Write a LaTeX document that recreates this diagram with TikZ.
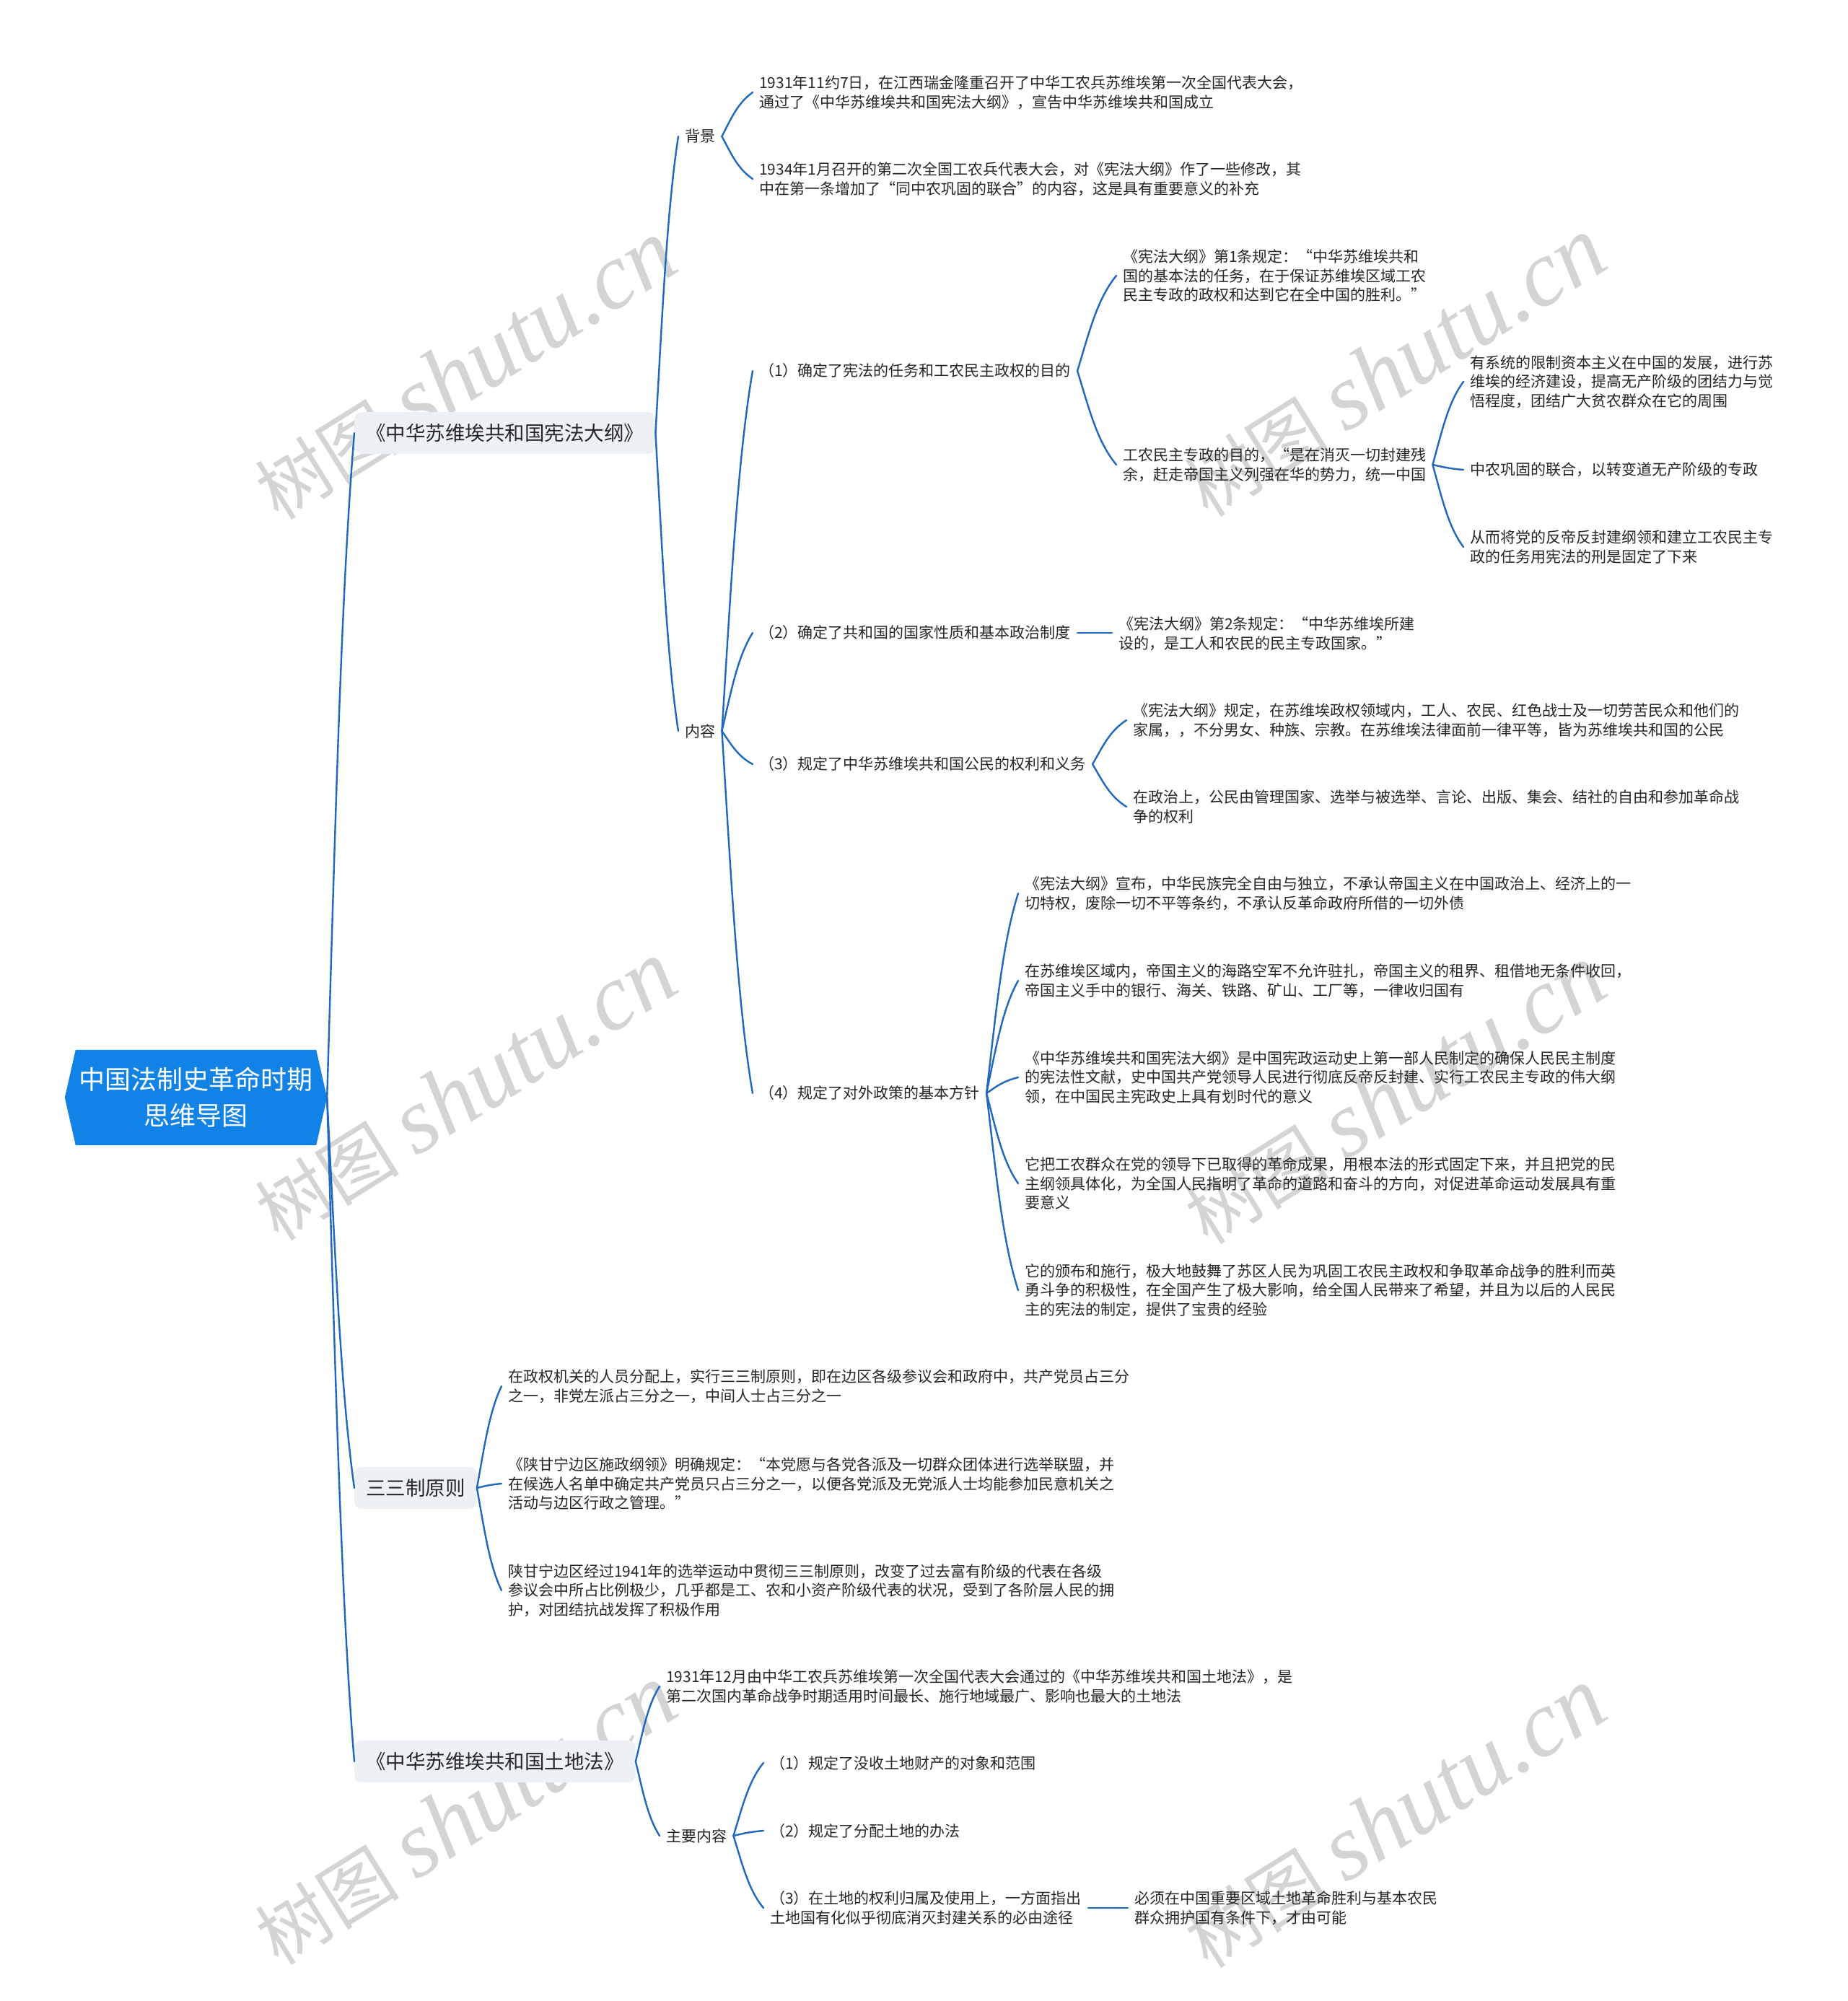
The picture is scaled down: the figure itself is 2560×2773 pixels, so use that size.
\documentclass[tikz,border=0pt]{standalone}
\usepackage{fontspec}
\setmainfont{Noto Sans CJK SC}
\newfontfamily\wmlatin{Liberation Serif}
\usetikzlibrary{calc,backgrounds}

\definecolor{linkblue}{HTML}{2068BE}
\definecolor{rootblue}{HTML}{1283E6}
\definecolor{boxgray}{HTML}{EDF0F4}
\definecolor{txt}{HTML}{262626}
\definecolor{wm}{HTML}{D4D4D4}

\tikzset{
  link/.style={draw=linkblue, line width=2.4pt, line cap=round},
  leaf/.style={anchor=west, align=left, inner xsep=9pt, inner ysep=3pt,
    font=\fontsize{21}{26.5}\selectfont, text=txt},
  mainbox/.style={anchor=west, fill=boxgray, rounded corners=10pt, inner xsep=16pt,
    minimum height=58pt, font=\fontsize{27.5}{32}\selectfont, text=txt},
  rootnode/.style={inner sep=0pt, minimum width=363pt, minimum height=132pt,
    align=center, text=white, font=\fontsize{36}{50}\selectfont},
  wmark/.style={rotate=32, text=wm, inner sep=0pt}
}

\newcommand{\mmlink}[2]{%
  \draw[link] let \p1=(#1.east), \p2=(#2.west), \n1={\x2-\x1}, \n2={\y2-\y1} in
    (\p1) .. controls ({\x1+0.3*\n1},{\y1+0.4*\n2}) and ({\x2-0.5*\n1},{\y2-0.25*\n2}) .. (\p2);}
\newcommand{\wmtext}{{\fontsize{100}{100}\selectfont 树图}\hspace{24pt}{\wmlatin\itshape\fontsize{130}{130}\selectfont shutu.cn}}

\begin{document}
\begin{tikzpicture}[x=1pt,y=-1pt]
\useasboundingbox (0,0) rectangle (2560,2773);

% root
\node[rootnode] (root) at (271.5,1521) {中国法制史革命时期\\思维导图};

% level 1
\node[mainbox] (A) at (491,600) {《中华苏维埃共和国宪法大纲》};
\node[mainbox] (B) at (491,2062) {三三制原则};
\node[mainbox] (C) at (491,2441) {《中华苏维埃共和国土地法》};

% A subtree
\node[leaf] (A1) at (940,189) {背景};
\node[leaf] (A2) at (940,1013) {内容};
\node[leaf] (A1a) at (1043,128) {1931年11约7日，在江西瑞金隆重召开了中华工农兵苏维埃第一次全国代表大会，\\通过了《中华苏维埃共和国宪法大纲》，宣告中华苏维埃共和国成立};
\node[leaf] (A1b) at (1043,248) {1934年1月召开的第二次全国工农兵代表大会，对《宪法大纲》作了一些修改，其\\中在第一条增加了“同中农巩固的联合”的内容，这是具有重要意义的补充};

\node[leaf] (A21) at (1043,514) {（1）确定了宪法的任务和工农民主政权的目的};
\node[leaf] (A21a) at (1547,382) {《宪法大纲》第1条规定：“中华苏维埃共和\\国的基本法的任务，在于保证苏维埃区域工农\\民主专政的政权和达到它在全中国的胜利。”};
\node[leaf] (A21b) at (1547,644) {工农民主专政的目的，“是在消灭一切封建残\\余，赶走帝国主义列强在华的势力，统一中国};
\node[leaf] (A21b1) at (2028,529) {有系统的限制资本主义在中国的发展，进行苏\\维埃的经济建设，提高无产阶级的团结力与觉\\悟程度，团结广大贫农群众在它的周围};
\node[leaf] (A21b2) at (2028,651) {中农巩固的联合，以转变道无产阶级的专政};
\node[leaf] (A21b3) at (2028,758) {从而将党的反帝反封建纲领和建立工农民主专\\政的任务用宪法的刑是固定了下来};

\node[leaf] (A22) at (1043,877) {（2）确定了共和国的国家性质和基本政治制度};
\node[leaf] (A22a) at (1541,878) {《宪法大纲》第2条规定：“中华苏维埃所建\\设的，是工人和农民的民主专政国家。”};

\node[leaf] (A23) at (1043,1059) {（3）规定了中华苏维埃共和国公民的权利和义务};
\node[leaf] (A23a) at (1561,998) {《宪法大纲》规定，在苏维埃政权领域内，工人、农民、红色战士及一切劳苦民众和他们的\\家属，，不分男女、种族、宗教。在苏维埃法律面前一律平等，皆为苏维埃共和国的公民};
\node[leaf] (A23b) at (1561,1118) {在政治上，公民由管理国家、选举与被选举、言论、出版、集会、结社的自由和参加革命战\\争的权利};

\node[leaf] (A24) at (1043,1515) {（4）规定了对外政策的基本方针};
\node[leaf] (A24a) at (1411,1238) {《宪法大纲》宣布，中华民族完全自由与独立，不承认帝国主义在中国政治上、经济上的一\\切特权，废除一切不平等条约，不承认反革命政府所借的一切外债};
\node[leaf] (A24b) at (1411,1359) {在苏维埃区域内，帝国主义的海路空军不允许驻扎，帝国主义的租界、租借地无条件收回，\\帝国主义手中的银行、海关、铁路、矿山、工厂等，一律收归国有};
\node[leaf] (A24c) at (1411,1493) {《中华苏维埃共和国宪法大纲》是中国宪政运动史上第一部人民制定的确保人民民主制度\\的宪法性文献，史中国共产党领导人民进行彻底反帝反封建、实行工农民主专政的伟大纲\\领，在中国民主宪政史上具有划时代的意义};
\node[leaf] (A24d) at (1411,1640) {它把工农群众在党的领导下已取得的革命成果，用根本法的形式固定下来，并且把党的民\\主纲领具体化，为全国人民指明了革命的道路和奋斗的方向，对促进革命运动发展具有重\\要意义};
\node[leaf] (A24e) at (1411,1788) {它的颁布和施行，极大地鼓舞了苏区人民为巩固工农民主政权和争取革命战争的胜利而英\\勇斗争的积极性，在全国产生了极大影响，给全国人民带来了希望，并且为以后的人民民\\主的宪法的制定，提供了宝贵的经验};

% B subtree
\node[leaf] (B1) at (695,1921) {在政权机关的人员分配上，实行三三制原则，即在边区各级参议会和政府中，共产党员占三分\\之一，非党左派占三分之一，中间人士占三分之一};
\node[leaf] (B2) at (695,2056) {《陕甘宁边区施政纲领》明确规定：“本党愿与各党各派及一切群众团体进行选举联盟，并\\在候选人名单中确定共产党员只占三分之一，以便各党派及无党派人士均能参加民意机关之\\活动与边区行政之管理。”};
\node[leaf] (B3) at (695,2204) {陕甘宁边区经过1941年的选举运动中贯彻三三制原则，改变了过去富有阶级的代表在各级\\参议会中所占比例极少，几乎都是工、农和小资产阶级代表的状况，受到了各阶层人民的拥\\护，对团结抗战发挥了积极作用};

% C subtree
\node[leaf] (C1) at (914,2337) {1931年12月由中华工农兵苏维埃第一次全国代表大会通过的《中华苏维埃共和国土地法》，是\\第二次国内革命战争时期适用时间最长、施行地域最广、影响也最大的土地法};
\node[leaf] (C2) at (914,2544) {主要内容};
\node[leaf] (C21) at (1058,2443) {（1）规定了没收土地财产的对象和范围};
\node[leaf] (C22) at (1058,2537) {（2）规定了分配土地的办法};
\node[leaf] (C23) at (1058,2644) {（3）在土地的权利归属及使用上，一方面指出\\土地国有化似乎彻底消灭封建关系的必由途径};
\node[leaf] (C23a) at (1563,2644) {必须在中国重要区域土地革命胜利与基本农民\\群众拥护国有条件下，才由可能};

% connectors
\mmlink{root}{A}
\mmlink{root}{B}
\mmlink{root}{C}
\mmlink{A}{A1}
\mmlink{A}{A2}
\mmlink{A1}{A1a}
\mmlink{A1}{A1b}
\mmlink{A2}{A21}
\mmlink{A2}{A22}
\mmlink{A2}{A23}
\mmlink{A2}{A24}
\mmlink{A21}{A21a}
\mmlink{A21}{A21b}
\mmlink{A21b}{A21b1}
\mmlink{A21b}{A21b2}
\mmlink{A21b}{A21b3}
\draw[link] (A22.east) -- (A22.east -| A22a.west);
\mmlink{A23}{A23a}
\mmlink{A23}{A23b}
\mmlink{A24}{A24a}
\mmlink{A24}{A24b}
\mmlink{A24}{A24c}
\mmlink{A24}{A24d}
\mmlink{A24}{A24e}
\mmlink{B}{B1}
\mmlink{B}{B2}
\mmlink{B}{B3}
\mmlink{C}{C1}
\mmlink{C}{C2}
\mmlink{C2}{C21}
\mmlink{C2}{C22}
\mmlink{C2}{C23}
\draw[link] (C23.east) -- (C23.east -| C23a.west);

% background: page, watermarks, root hexagon
\begin{pgfonlayer}{background}
\fill[white] (0,0) rectangle (2560,2773);
\node[wmark] (wm1) at (645,513) {\wmtext};
\node[wmark] (wm2) at (1933,509) {\wmtext};
\node[wmark] (wm3) at (645,1512) {\wmtext};
\node[wmark] (wm4) at (1933,1517) {\wmtext};
\node[wmark] (wm5) at (645,2515) {\wmtext};
\node[wmark] (wm6) at (1933,2519) {\wmtext};
\fill[rootblue] (root.west) -- ([xshift=15pt]root.north west) -- ([xshift=-15pt]root.north east)
  -- (root.east) -- ([xshift=-15pt]root.south east) -- ([xshift=15pt]root.south west) -- cycle;
\end{pgfonlayer}
\end{tikzpicture}
\end{document}
